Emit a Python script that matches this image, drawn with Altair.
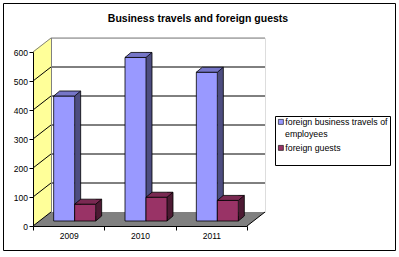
import altair as alt
import pandas as pd

# ---- data ----
years = ["2009", "2010", "2011"]
travels = [431, 564, 513]
guests = [58, 82, 71]
series_names = ["foreign business travels of employees", "foreign guests"]
legend_line1 = "foreign business travels of"
legend_line2 = "employees"
y_ticks = [0, 100, 200, 300, 400, 500, 600]

# ---- styling / layout constants ----
FONT = "Liberation Sans, Arial, sans-serif"
W, H = 214, 174            # back wall (plot frame)
BAR_W = 21
BAR_DY = 9                  # bars stand a little in front of the back wall
DEPTH_X, DEPTH_Y = 6, -5    # bar depth (oblique projection)
front_colors = ["#9999FF", "#993366"]
top_colors = ["#7676C8", "#7A2952"]
side_colors = ["#4D4D80", "#4D1A33"]
bar_center_off = [-22.5, -1.5]
WALL = "#FFFF99"
FLOOR = "#808080"
LEG_X, LEG_Y = 225.5, 79.5
LEG_FS = 8.8

x_scale = alt.Scale(domain=years, paddingInner=0, paddingOuter=0)
y_scale = alt.Scale(domain=[0, 600], nice=False, zero=True)

y_axis = alt.Axis(values=y_ticks, offset=32, translate=14.5, grid=False, title=None,
                  domainColor="black", tickColor="black", tickSize=4, labelPadding=1.5,
                  labelFont=FONT, labelFontSize=8.5, labelColor="black", zindex=1)
x_axis = alt.Axis(orient="bottom", offset=32, translate=-17.5, tickBand="extent", title=None,
                  labelAngle=0, domainColor="black", tickColor="black", tickSize=4,
                  labelPadding=1.5, labelFont=FONT, labelFontSize=8.5, labelColor="black",
                  grid=False, zindex=1)

ticks_df = pd.DataFrame({"v": y_ticks})
one = pd.DataFrame({"k": [0]})

def X():
    return alt.X("year:N", scale=x_scale, sort=years, axis=x_axis)

def Yv():
    return alt.Y("value:Q", scale=y_scale, axis=y_axis)

def Yd(d):
    return alt.Y(datum=d, type="quantitative", scale=y_scale, axis=y_axis)

def Yt():
    return alt.Y("v:Q", scale=y_scale, axis=y_axis)

Y0 = alt.Y2(datum=0)

# left wall and floor (frame decoration)
left_wall = alt.Chart(one).mark_point(
    shape="M0,0L0,-1.74L-0.18,-1.61L-0.18,0.14Z", size=40000, filled=True,
    fill=WALL, strokeWidth=0, opacity=1
).encode(x=alt.value(0), y=Yd(0))

floor = alt.Chart(one).mark_point(
    shape="M0,0L2.14,0L1.96,0.14L-0.18,0.14Z", size=40000, filled=True,
    fill=FLOOR, strokeWidth=0, opacity=1
).encode(x=alt.value(0), y=Yd(0))

grid = alt.Chart(ticks_df).transform_filter("datum.v > 0 && datum.v < 600").mark_rule(
    color="black", strokeWidth=1
).encode(y=Yt())

top_edge = alt.Chart(ticks_df).transform_filter("datum.v == 600").mark_rule(
    color="#808080", strokeWidth=1
).encode(y=Yt())

back_left_edge = alt.Chart(one).mark_rule(color="#808080", strokeWidth=1).encode(
    x=alt.value(0.5), y=Yd(0), y2=alt.Y2(datum=600),
)

diag_black = alt.Chart(ticks_df).transform_filter("datum.v < 600").mark_rule(
    color="black", strokeWidth=1, y2Offset=14
).encode(x=alt.value(0), x2=alt.value(-18), y=Yt(), y2=alt.Y2("v:Q"))

diag_gray = alt.Chart(ticks_df).transform_filter("datum.v == 600").mark_rule(
    color="#808080", strokeWidth=1, y2Offset=14
).encode(x=alt.value(0), x2=alt.value(-18), y=Yt(), y2=alt.Y2("v:Q"))

floor_right = alt.Chart(one).mark_rule(color="black", strokeWidth=1, y2Offset=14).encode(
    x=alt.value(W), x2=alt.value(W - 18), y=Yd(0), y2=alt.Y2(datum=0),
)

color_scale = alt.Scale(domain=series_names, range=front_colors)
legend = alt.Legend(
    title=None, orient="none", legendX=LEG_X, legendY=LEG_Y,
    strokeColor="transparent", padding=0,
    symbolType="square", symbolSize=25, symbolStrokeColor="black", symbolStrokeWidth=0.6,
    labelFont=FONT, labelFontSize=LEG_FS, labelColor="black", labelOffset=0,
    labelLimit=300, rowPadding=16,
    labelExpr=f"datum.label == '{series_names[0]}' ? '{legend_line1}' : datum.label",
)

bar_layers = []
for i, (name, vals) in enumerate(zip(series_names, [travels, guests])):
    df = pd.DataFrame({"year": years, "value": vals, "series": name})
    cx = bar_center_off[i]
    base = alt.Chart(df)
    side = base.mark_bar(
        width=DEPTH_X, xOffset=cx + BAR_W / 2 + DEPTH_X / 2,
        yOffset=BAR_DY + DEPTH_Y, y2Offset=BAR_DY + DEPTH_Y,
        fill=side_colors[i], strokeWidth=0
    ).encode(x=X(), y=Yv(), y2=Y0)
    side_edge = base.mark_rule(
        xOffset=cx + BAR_W / 2 + DEPTH_X, yOffset=BAR_DY + DEPTH_Y, y2Offset=BAR_DY + DEPTH_Y,
        color="black", strokeWidth=0.8
    ).encode(x=X(), y=Yv(), y2=Y0)
    side_bottom = base.mark_point(
        shape="M0,-0.5L0,0L0.6,-0.5", size=400, filled=True, fill=side_colors[i],
        stroke="black", strokeWidth=0.8, opacity=1,
        xOffset=cx + BAR_W / 2, yOffset=BAR_DY
    ).encode(x=X(), y=Yd(0))
    front = base.mark_bar(
        width=BAR_W, xOffset=cx, yOffset=BAR_DY, y2Offset=BAR_DY,
        stroke="black", strokeWidth=0.8
    ).encode(x=X(), y=Yv(), y2=Y0,
             color=alt.Color("series:N", scale=color_scale, legend=legend))
    top = base.mark_point(
        shape="M0,0L2.1,0L2.7,-0.5L0.6,-0.5Z", size=400, filled=True, fill=top_colors[i],
        stroke="black", strokeWidth=0.8, opacity=1,
        xOffset=cx - BAR_W / 2, yOffset=BAR_DY
    ).encode(x=X(), y=Yv())
    bar_layers += [side, side_edge, side_bottom, front, top]

legend_box = alt.Chart(one).mark_rect(fill="white", stroke="black", strokeWidth=1).encode(
    x=alt.value(224.5), x2=alt.value(339.5), y=alt.value(78.5), y2=alt.value(127.5)
)

# second line of the first legend label
legend_wrap = alt.Chart(pd.DataFrame({"t": [legend_line2]})).mark_text(
    align="left", baseline="middle", font=FONT, fontSize=LEG_FS, color="black"
).encode(x=alt.value(234), y=alt.value(96), text="t:N")

border = alt.Chart(one).mark_rect(fill="transparent", stroke="black", strokeWidth=1).encode(
    x=alt.value(-47.5), x2=alt.value(344.5), y=alt.value(-34.5), y2=alt.value(212.5)
)

chart = alt.layer(
    left_wall, floor, grid, top_edge, back_left_edge, diag_black, diag_gray, floor_right,
    *bar_layers, legend_box, legend_wrap, border
).properties(
    width=W, height=H,
    padding={"left": 51, "top": 38, "right": 134, "bottom": 45},
    autosize=alt.AutoSizeParams(type="none"),
    title=alt.TitleParams("Business travels and foreign guests", font=FONT, fontSize=10.5,
                          fontWeight="bold", color="black", anchor="middle", dx=40,
                          offset=14, dy=35),
).configure_view(fill=WALL, stroke=None).configure(background="white")

chart.save("out.html", embed_options={"renderer": "svg", "actions": False})
